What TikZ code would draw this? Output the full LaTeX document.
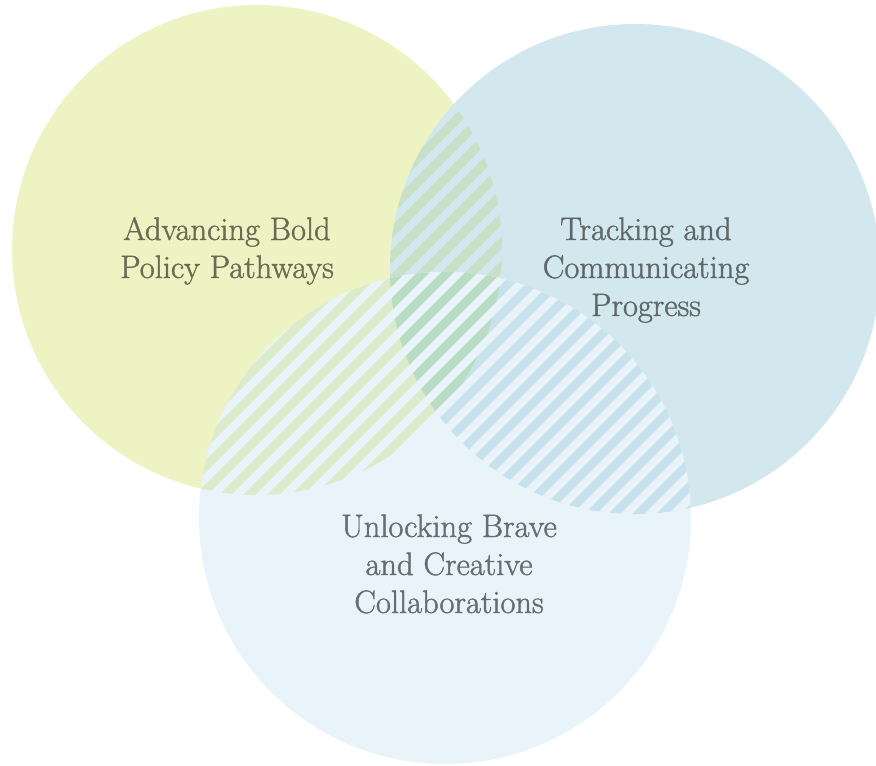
\documentclass[tikz,border=0pt]{standalone}
\usepackage{fontspec}
\newfontfamily\lblfont{Latin Modern Roman}[FakeBold=1.3]
\usepackage{xcolor}
\definecolor{cG}{HTML}{EEF3C3}
\definecolor{cB}{HTML}{D3E7EE}
\definecolor{cL}{HTML}{E8F4F9}
\definecolor{sGB}{HTML}{C8E1C6}
\definecolor{sLG}{HTML}{DCEBCA}
\definecolor{sLGB}{HTML}{B9DCC4}
\definecolor{sLB}{HTML}{C7E2EC}
\definecolor{tGreen}{HTML}{696C55}
\definecolor{tBlue}{HTML}{5E686B}
\definecolor{tLight}{HTML}{646D70}
\tikzset{
  lbl/.style={align=center, inner sep=0pt, anchor=base, font=\lblfont\fontsize{32.5}{38}\selectfont},
  stripes/.style={line width=8.5pt},
}
\newcommand{\mystripes}[1]{%
  \foreach \c in {0,24,...,1680} {\draw[stripes,#1] (\c,0) -- (\c-800,800);}%
}
\begin{document}
\begin{tikzpicture}[x=1pt,y=-1pt]
\useasboundingbox (0,0) rectangle (876,766);
\coordinate (G) at (257,250);
\coordinate (B) at (635,269);
\coordinate (L) at (445,518);
\def\rG{245}\def\rB{245}\def\rL{246}
% base circles
\fill[cG] (G) circle (\rG);
\fill[cB] (B) circle (\rB);
% G and B overlap stripes
\begin{scope}
  \clip (G) circle (\rG);
  \clip (B) circle (\rB);
  \mystripes{sGB}
\end{scope}
% bottom circle
\fill[cL] (L) circle (\rL);
% L and B stripes
\begin{scope}
  \clip (L) circle (\rL);
  \clip (B) circle (\rB);
  \mystripes{sLB}
\end{scope}
% L and G
\begin{scope}
  \clip (L) circle (\rL);
  \clip (G) circle (\rG);
  \fill[cL] (0,0) rectangle (876,766);
  \mystripes{sLG}
\end{scope}
% L, G and B
\begin{scope}
  \clip (L) circle (\rL);
  \clip (G) circle (\rG);
  \clip (B) circle (\rB);
  \mystripes{sLGB}
\end{scope}
% labels (base anchor = baseline of last line)
\node[lbl, text=tGreen] (tG) at (227,278) {Advancing Bold\\Policy Pathways};
\node[lbl, text=tBlue] (tB) at (646,316) {Tracking and\\Communicating\\Progress};
\node[lbl, text=tLight] (tL) at (449,613) {Unlocking Brave\\and Creative\\Collaborations};
\end{tikzpicture}
\end{document}
